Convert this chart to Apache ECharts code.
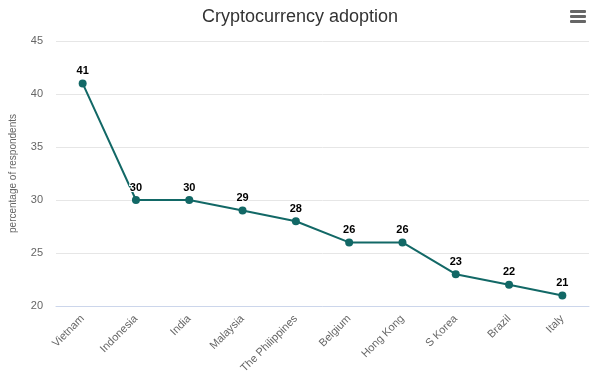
<!DOCTYPE html>
<html><head><meta charset="utf-8">
<script src="https://cdn.jsdelivr.net/npm/echarts@6/dist/echarts.min.js"></script>
<style>html,body{margin:0;padding:0;background:#fff}#c{width:600px;height:380px}</style>
</head><body><div id="c"></div>
<script>
const categories = ["Vietnam","Indonesia","India","Malaysia","The Philippines","Belgium","Hong Kong","S Korea","Brazil","Italy"];
const values = [41,30,30,29,28,26,26,23,22,21];
const titleText = "Cryptocurrency adoption";
const yAxisTitle = "percentage of respondents";

const chart = echarts.init(document.getElementById('c'), null, {renderer:'canvas'});
chart.setOption({
  animation:false,
  backgroundColor:'#fff',
  title:{text:titleText,left:'center',top:3,textStyle:{fontFamily:'Liberation Sans, Arial',fontSize:18,fontWeight:'normal',color:'#333'}},
  grid:{left:55,right:11,top:41,bottom:74},
  xAxis:{type:'category',data:categories,boundaryGap:true,
    axisLine:{lineStyle:{color:'#ccd6eb'}},axisTick:{show:false},
    axisLabel:{rotate:45,color:'#666',fontSize:11,fontFamily:'Liberation Sans, Arial',interval:0,margin:11}},
  yAxis:{type:'value',min:20,max:45,interval:5,
    name:yAxisTitle,nameLocation:'middle',nameGap:38,nameRotate:90,
    nameTextStyle:{color:'#666',fontSize:10,fontFamily:'Liberation Sans, Arial'},
    axisLine:{show:false},axisTick:{show:false},
    axisLabel:{color:'#666',fontSize:11,fontFamily:'Liberation Sans, Arial',margin:13},
    splitLine:{lineStyle:{color:'#e6e6e6'}}},
  graphic:[{type:'group',right:14,top:10,children:[
    {type:'rect',shape:{x:0,y:0,width:16,height:3,r:1},style:{fill:'#666'}},
    {type:'rect',shape:{x:0,y:5,width:16,height:3,r:1},style:{fill:'#666'}},
    {type:'rect',shape:{x:0,y:10,width:16,height:3,r:1},style:{fill:'#666'}}]}],
  series:[{type:'line',data:values,symbol:'circle',symbolSize:8,
    itemStyle:{color:'#126866'},lineStyle:{color:'#126866',width:2},
    label:{show:true,position:'top',distance:3,color:'#000',fontWeight:'bold',fontSize:11,
      fontFamily:'Liberation Sans, Arial',textBorderColor:'#fff',textBorderWidth:2}}]
});
</script></body></html>
